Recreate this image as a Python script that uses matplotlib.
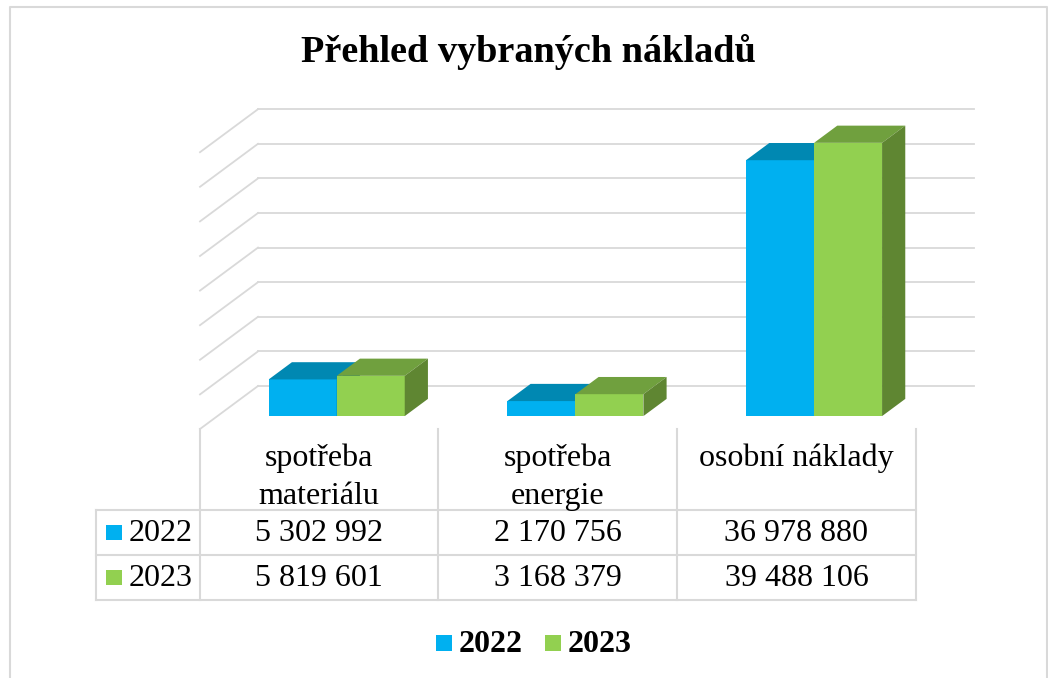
import matplotlib
matplotlib.use('Agg')
import matplotlib.pyplot as plt
from matplotlib.patches import Polygon, Rectangle

plt.rcParams['font.family'] = ['Liberation Serif', 'DejaVu Serif']

# data
kategorie = ['spotřeba\nmateriálu', 'spotřeba\nenergie', 'osobní náklady']
roky = ['2022', '2023']
naklady_2022 = [5302992, 2170756, 36978880]
naklady_2023 = [5819601, 3168379, 39488106]
mrizka = [0, 5, 10, 15, 20, 25, 30, 35, 40]  # miliony

barvy = ['#00B0F0', '#92D050']
barvy_horni = ['#0088B2', '#70A03E']
barvy_bok = ['#0077A0', '#5F8632']
seda = '#D9D9D9'

W, H = 1048, 678
fig = plt.figure(figsize=(W / 100, H / 100), dpi=100)

# pozadi v pixelech (titulek, tabulka, legenda, ramecek)
bg = fig.add_axes([0, 0, 1, 1])
bg.set_xlim(0, W)
bg.set_ylim(H, 0)
bg.axis('off')

# graf: x = kategorie (0..3), y = miliony Kc
x0, x1 = 200, 916
y0, ytop = 429, 95
px_na_mil = 6.92
ax = fig.add_axes([x0 / W, 1 - y0 / H, (x1 - x0) / W, (y0 - ytop) / H])
ax.set_xlim(0, 3)
ax.set_ylim(0, (y0 - ytop) / px_na_mil)
ax.axis('off')

px_na_kat = (x1 - x0) / 3
hx = 58 / px_na_kat     # hloubka v x
hy = 43 / px_na_mil     # hloubka v y
sirka = 68 / px_na_kat
d_pred, d_hl = 0.3, 0.4

# mrizka na zadni a bocni stene
for v in mrizka:
    ax.plot([hx, 3 + hx], [v + hy, v + hy], color=seda, lw=1.3, clip_on=False, zorder=1)
    ax.plot([0, hx], [v, v + hy], color=seda, lw=1.3, clip_on=False, zorder=1)

# sloupce
for i in range(len(kategorie)):
    stred = i + 0.5
    for j, hodnoty in enumerate([naklady_2022, naklady_2023]):
        v = hodnoty[i] / 1e6
        xf = stred - sirka + j * sirka + d_pred * hx
        yb = d_pred * hy
        yt = yb + v
        ox, oy = d_hl * hx, d_hl * hy
        ax.add_patch(Rectangle((xf, yb), sirka, v, facecolor=barvy[j], lw=0, zorder=2 + j))
        ax.add_patch(Polygon([(xf, yt), (xf + sirka, yt), (xf + sirka + ox, yt + oy), (xf + ox, yt + oy)],
                             closed=True, facecolor=barvy_horni[j], lw=0, zorder=2 + j))
        ax.add_patch(Polygon([(xf + sirka, yb), (xf + sirka + ox, yb + oy), (xf + sirka + ox, yt + oy), (xf + sirka, yt)],
                             closed=True, facecolor=barvy_bok[j], lw=0, zorder=2 + j))

# titulek
bg.text(528, 62, 'Přehled vybraných nákladů', ha='center', va='baseline',
        fontsize=27.5, fontweight='bold')

# tabulka
sloupce = [200, 438, 677, 916]
radky = [510, 555, 600]
for x in sloupce:
    bg.plot([x, x], [429, 600], color=seda, lw=1.5)
for y in radky:
    bg.plot([96, 916], [y, y], color=seda, lw=1.5)
bg.plot([96, 96], [510, 600], color=seda, lw=1.5)

for i, nazev in enumerate(kategorie):
    xs = (sloupce[i] + sloupce[i + 1]) / 2
    for k, radek in enumerate(nazev.split('\n')):
        bg.text(xs, 466 + k * 38, radek, ha='center', va='baseline', fontsize=23)
    for j, hodnoty in enumerate([naklady_2022, naklady_2023]):
        txt = f'{hodnoty[i]:,}'.replace(',', ' ')
        bg.text(xs, (radky[j] + radky[j + 1]) / 2 + 1, txt, ha='center', va='center', fontsize=23)

for j, rok in enumerate(roky):
    yc = (radky[j] + radky[j + 1]) / 2
    bg.add_patch(Rectangle((106, yc - 7.5), 16, 15, facecolor=barvy[j], lw=0))
    bg.text(129, yc + 1, rok, ha='left', va='center', fontsize=23)

# legenda
for j, (rok, lx) in enumerate(zip(roky, [436, 545])):
    bg.add_patch(Rectangle((lx, 635), 16, 16, facecolor=barvy[j], lw=0))
    bg.text(lx + 23, 644, rok, ha='left', va='center', fontsize=23, fontweight='bold')

# ramecek
bg.plot([9.5, 9.5, 1047, 1047], [H + 5, 6.5, 6.5, H + 5], color=seda, lw=1.5, clip_on=False)

fig.savefig('out.png', dpi=100)
